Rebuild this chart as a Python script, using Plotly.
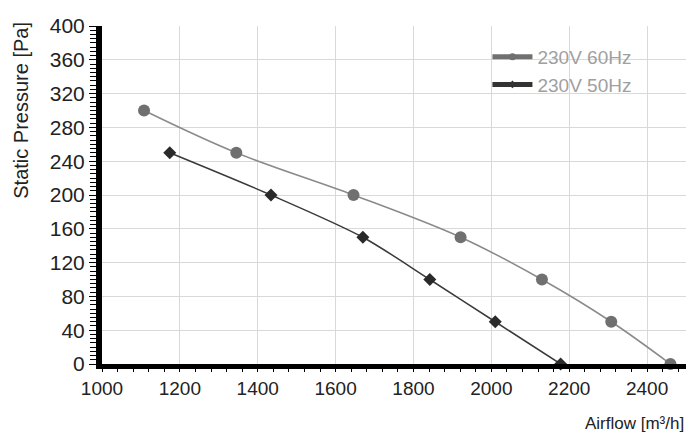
import plotly.graph_objects as go

# fan curve data
flow_60hz = [1108, 1345, 1646, 1921, 2130, 2308, 2460]
pressure_60hz = [300, 250, 200, 150, 100, 50, 0]

flow_50hz = [1174, 1434, 1670, 1842, 2010, 2178]
pressure_50hz = [250, 200, 150, 100, 50, 0]

x_ticks = [1000, 1200, 1400, 1600, 1800, 2000, 2200, 2400]
y_ticks = [0, 40, 80, 120, 160, 200, 240, 280, 320, 360, 400]

font = "Liberation Sans"

fig = go.Figure()

# curves
fig.add_trace(go.Scatter(
    x=flow_60hz, y=pressure_60hz, mode="lines+markers", showlegend=False,
    line=dict(color="#8a8a8a", width=1.5, shape="spline", smoothing=1),
    marker=dict(symbol="circle", size=12, color="#707070"),
    cliponaxis=False
))
fig.add_trace(go.Scatter(
    x=flow_50hz, y=pressure_50hz, mode="lines+markers", showlegend=False,
    line=dict(color="#3a3a3a", width=1.5, shape="spline", smoothing=0.8),
    marker=dict(symbol="diamond", size=10, color="#2a2a2a"),
    cliponaxis=False
))

# legend entries with the thick swatch lines
fig.add_trace(go.Scatter(
    x=[None], y=[None], mode="lines+markers", name="230V 60Hz",
    line=dict(color="#707070", width=5),
    marker=dict(symbol="circle", size=7, color="#707070")
))
fig.add_trace(go.Scatter(
    x=[None], y=[None], mode="lines+markers", name="230V 50Hz",
    line=dict(color="#333333", width=5),
    marker=dict(symbol="diamond", size=6, color="#333333")
))

fig.update_xaxes(
    range=[1000, 2500], tickvals=x_ticks,
    showgrid=True, gridcolor="#d9d9d9", gridwidth=1,
    showline=True, linecolor="black", linewidth=5,
    ticks="outside", ticklen=3, tickcolor="black",
    minor=dict(dtick=40, ticks="outside", ticklen=3, tickcolor="black", showgrid=False),
    tickfont=dict(family=font, size=19, color="#222"),
    zeroline=False
)
fig.update_yaxes(
    range=[0, 400], tickvals=y_ticks,
    showgrid=True, gridcolor="#d9d9d9", gridwidth=1,
    showline=True, linecolor="black", linewidth=6,
    ticks="outside", ticklen=7, tickcolor="black",
    minor=dict(dtick=5, ticks="outside", ticklen=6, tickcolor="black", showgrid=False),
    tickfont=dict(family=font, size=21, color="#222"),
    zeroline=False
)

# axis titles placed as in the original
fig.add_annotation(
    text="Static Pressure [Pa]", textangle=-90, xref="paper", yref="paper",
    x=-0.14, y=0.75, xanchor="center", yanchor="middle", showarrow=False,
    font=dict(family=font, size=20, color="#222")
)
fig.add_annotation(
    text="Airflow [m³/h]", xref="paper", yref="paper",
    x=1.0, y=-0.175, xanchor="right", yanchor="middle", showarrow=False,
    font=dict(family=font, size=17, color="#222")
)

fig.update_layout(
    width=700, height=448,
    margin=dict(l=102, r=14, t=26, b=84),
    plot_bgcolor="white", paper_bgcolor="white",
    legend=dict(
        x=0.66, y=0.965, xanchor="left", yanchor="top",
        font=dict(family=font, size=19, color="#a0a0a0"),
        bgcolor="rgba(0,0,0,0)", itemwidth=40
    )
)

# drop the page's default body margin so the figure sits at the window corner
fig.write_html("out.html", config={"displayModeBar": False},
               post_script="document.body.style.margin='0';")
